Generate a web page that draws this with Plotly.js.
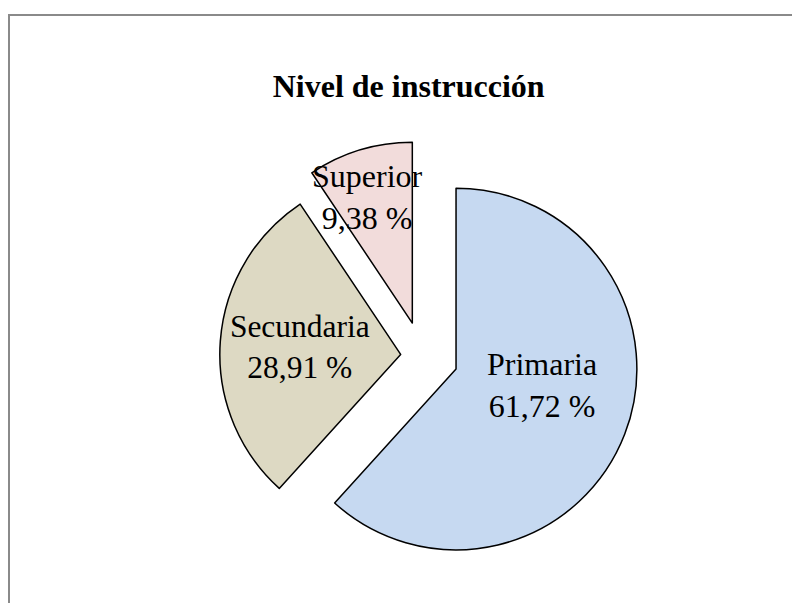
<!DOCTYPE html>
<html>
<head>
<meta charset="utf-8">
<script src="https://cdn.plot.ly/plotly-3.0.1.min.js"></script>
<style>
  html, body { margin: 0; padding: 0; background: #ffffff; overflow: hidden; }
  #wrap { position: relative; width: 792px; height: 603px; }
  #chart { position: absolute; left: 0; top: 0; width: 792px; height: 603px; }
  #frame { position: absolute; left: 8px; top: 14px; width: 800px; height: 600px;
           border-left: 2px solid #8a8a8a; border-top: 2px solid #8a8a8a; pointer-events: none; }
</style>
</head>
<body>
<div id="wrap">
  <div id="chart"></div>
  <div id="frame"></div>
</div>
<script>
const categories = ["Primaria", "Secundaria", "Superior"];
const percentages = [61.72, 28.91, 9.38];
const sliceColors = ["#C6D9F1", "#DDD9C3", "#F2DCDB"];
const pulls = [0.20, 0.12, 0.19];
const chartTitle = "Nivel de instrucción";

const W = 792, H = 603;
const domX = [0.2592, 0.8072], domY = [0.0498, 0.7695];
const labelFont = { family: "Liberation Serif, Times New Roman, serif", size: 32, color: "#000000" };

// Label placement style (spreadsheet-like "best fit"): slice index -> radial fraction & pixel nudge
const labelPlacement = {
  0: { frac: 0.475, xshift: 6, yshift: 15 },
  2: { frac: 0.73, xshift: -6, yshift: 0 }
};

const fmt = v => v.toFixed(2).replace(".", ",") + " %";
const texts = categories.map((c, i) => (i in labelPlacement) ? "" : c + "<br>" + fmt(percentages[i]));

// pie geometry as Plotly computes it
const boxW = W * (domX[1] - domX[0]), boxH = H * (domY[1] - domY[0]);
const maxPull = Math.max(...pulls);
const R = Math.min(boxW, boxH) / 2 / (1 + maxPull);
const cx = W * (domX[0] + domX[1]) / 2;
const cy = H * (1 - domY[0]) - boxH / 2;
const total = percentages.reduce((a, b) => a + b, 0);

const annotations = [];
let cum = 0;
percentages.forEach((v, i) => {
  const a0 = cum / total * 2 * Math.PI;
  cum += v;
  const a1 = cum / total * 2 * Math.PI;
  const p = labelPlacement[i];
  if (!p) return;
  const mid = (a0 + a1) / 2;
  const dx = Math.sin(mid), dy = -Math.cos(mid);
  const dist = (pulls[i] + p.frac) * R;
  const px = cx + dx * dist, py = cy + dy * dist;
  annotations.push({
    xref: "paper", yref: "paper",
    x: px / W, y: 1 - py / H,
    xanchor: "center", yanchor: "middle",
    xshift: p.xshift, yshift: p.yshift,
    text: categories[i] + "<br>" + fmt(v),
    showarrow: false,
    font: labelFont
  });
});

const trace = {
  type: "pie",
  labels: categories,
  values: percentages,
  text: texts,
  sort: false,
  direction: "clockwise",
  rotation: 0,
  pull: pulls,
  marker: { colors: sliceColors, line: { color: "#000000", width: 1.5 } },
  textposition: "inside",
  insidetextorientation: "horizontal",
  texttemplate: "%{text}",
  textfont: labelFont,
  hoverinfo: "none",
  showlegend: false,
  domain: { x: domX, y: domY }
};

const layout = {
  width: W,
  height: H,
  margin: { l: 0, r: 0, t: 0, b: 0 },
  paper_bgcolor: "#ffffff",
  showlegend: false,
  annotations: annotations,
  title: {
    text: chartTitle,
    font: { family: "Liberation Serif, Times New Roman, serif", size: 32, color: "#000000", weight: "bold" },
    x: 0.516, xanchor: "center",
    y: 0.857, yanchor: "middle", yref: "container"
  }
};

Plotly.newPlot("chart", [trace], layout, { staticPlot: true, displayModeBar: false });
</script>
</body>
</html>
